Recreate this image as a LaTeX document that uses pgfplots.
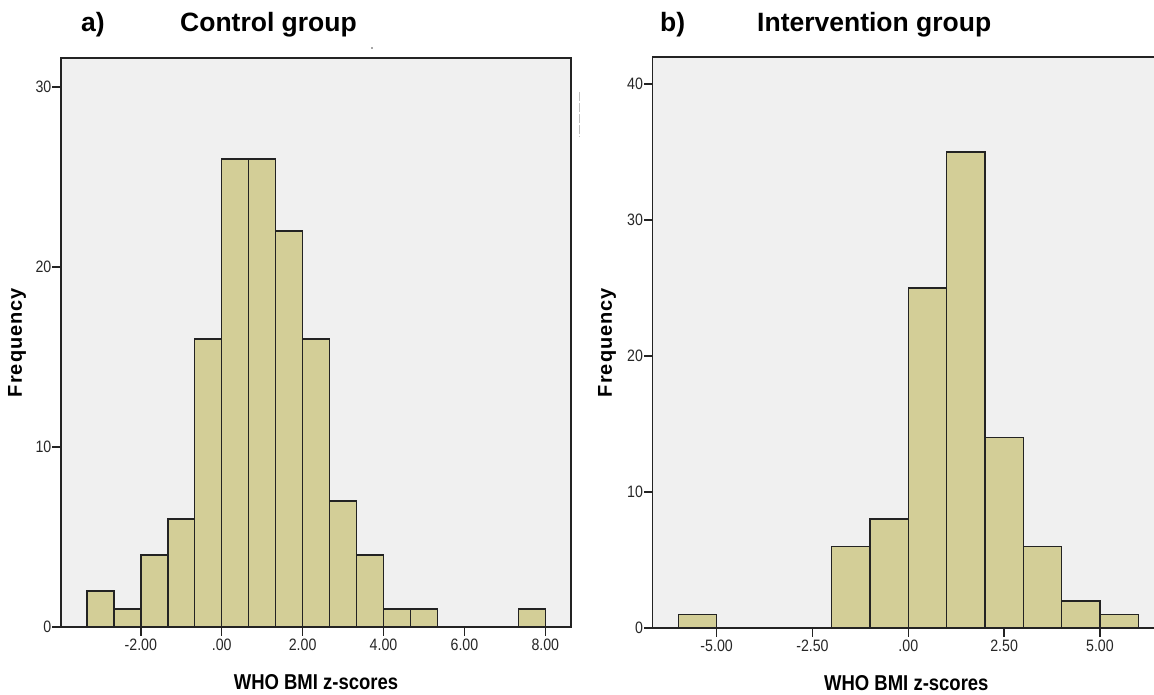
\documentclass[border=0pt]{standalone}
\usepackage{fontspec}
\setmainfont{Liberation Sans}
\newfontfamily\condfont{Liberation Sans}[FakeStretch=0.86]
\newfontfamily\tickfont{Liberation Sans}[FakeStretch=0.86]
\newfontfamily\freqfont{Liberation Sans}[LetterSpace=5]
\usepackage{pgfplots}
\pgfplotsset{compat=1.18}
\definecolor{bgc}{RGB}{240,240,240}
\definecolor{barc}{RGB}{211,206,151}
\definecolor{edgec}{RGB}{35,35,35}
\pgfplotsset{spss/.style={
  scale only axis, anchor=south west,
  axis background/.style={fill=bgc},
  axis line style={line width=1.5pt, draw=edgec},
  tick align=outside, xtick pos=bottom, ytick pos=left,
  major tick length=8.5pt,
  tick style={line width=1.5pt, draw=edgec},
  tick label style={font=\tickfont\fontsize{16.5}{16.5}\selectfont, text=black!85},
  xticklabel style={inner ysep=3pt},
  yticklabel style={inner xsep=1pt},
  ymin=0,
  xlabel={WHO BMI z-scores},
  ylabel={Frequency},
  xlabel style={font=\condfont\bfseries\fontsize{21.5}{21.5}\selectfont, anchor=base},
  ylabel style={font=\freqfont\bfseries\fontsize{20}{20}\selectfont, anchor=center},
}}
\begin{document}
\begin{tikzpicture}[x=1pt,y=1pt]
\useasboundingbox (0,0) rectangle (1154,694);
% Left panel: Control group
\begin{axis}[spss, at={(61pt,67pt)}, width=510pt, height=569pt,
  xmin=-3.973, xmax=8.635, ymax=31.6,
  xtick={-2,0,2,4,6,8}, xticklabels={-2.00,.00,2.00,4.00,6.00,8.00},
  ytick={0,10,20,30}, yticklabels={0,10,20,30},
  xlabel style={at={(axis description cs:0.5,-0.1107)}},
  ylabel style={at={(axis description cs:-0.0863,0.5)}},
]
\addplot[ybar interval, fill=barc, draw=edgec, line width=1.5pt] coordinates {
 (-3.3333,2) (-2.6667,1) (-2,4) (-1.3333,6) (-0.6667,16) (0,26) (0.6667,26)
 (1.3333,22) (2,16) (2.6667,7) (3.3333,4) (4,1) (4.6667,1) (5.3333,1)};
\addplot[ybar interval, fill=barc, draw=edgec, line width=1.5pt] coordinates {
 (7.3333,1) (8,1)};
\end{axis}
% Right panel: Intervention group
\begin{axis}[spss, at={(652.7pt,66pt)}, width=507.3pt, height=571pt,
  xmin=-6.668, xmax=6.567, ymax=42.0,
  xtick={-5,-2.5,0,2.5,5}, xticklabels={-5.00,-2.50,.00,2.50,5.00},
  ytick={0,10,20,30,40}, yticklabels={0,10,20,30,40},
  xlabel style={at={(axis description cs:0.5,-0.1098)}},
  ylabel style={at={(axis description cs:-0.0901,0.5)}},
]
\addplot[ybar interval, fill=barc, draw=edgec, line width=1.5pt] coordinates {
 (-6,1) (-5,1)};
\addplot[ybar interval, fill=barc, draw=edgec, line width=1.5pt] coordinates {
 (-2,6) (-1,8) (0,25) (1,35) (2,14) (3,6) (4,2) (5,1) (6,1)};
\end{axis}
% Panel titles
\node[anchor=base west, inner sep=0pt, font=\bfseries\fontsize{26.5}{26.5}\selectfont] at (81,662.5) {a)};
\node[anchor=base west, inner sep=0pt, font=\bfseries\fontsize{26.5}{26.5}\selectfont] at (180,662.5) {Control group};
\node[anchor=base west, inner sep=0pt, font=\bfseries\fontsize{26.5}{26.5}\selectfont] at (660,662.5) {b)};
\node[anchor=base west, inner sep=0pt, font=\bfseries\fontsize{26.5}{26.5}\selectfont] at (757,662.5) {Intervention group};
% scan artefacts
\fill[black!70] (372,646) circle (0.9);
\draw[black!25, line width=1pt, dash pattern=on 9pt off 2pt] (579,602) -- (579,557);
\end{tikzpicture}
\end{document}
